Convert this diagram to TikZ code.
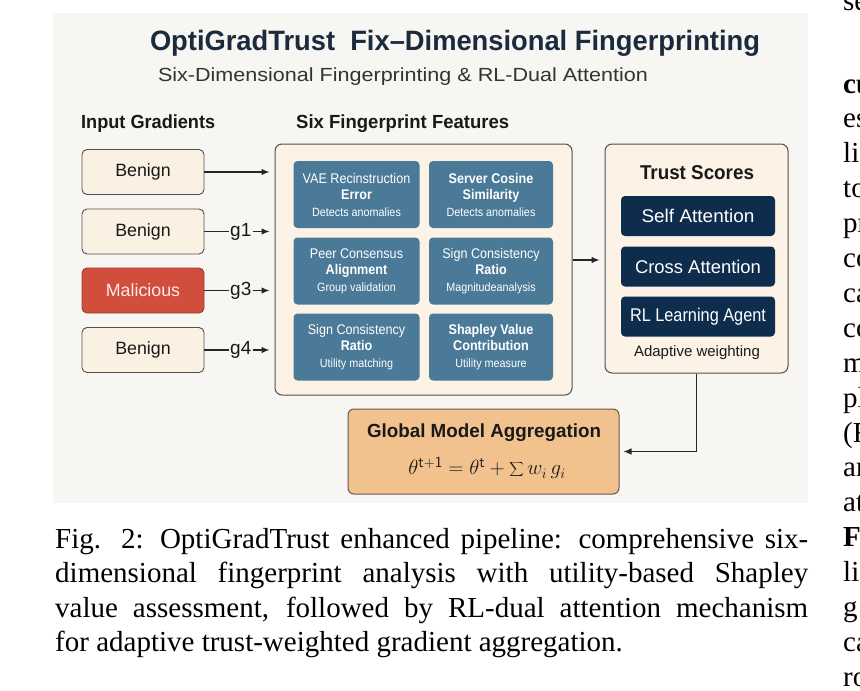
\documentclass[tikz,border=0pt]{standalone}
\usepackage{fontspec}
\setmainfont{Liberation Sans}
\newfontfamily\serifcap{Liberation Serif}
\newfontfamily\cond[FakeStretch=0.9]{Liberation Sans}
\usepackage{graphicx}
\usetikzlibrary{arrows.meta,calc}
\definecolor{bgc}{RGB}{247,246,243}
\definecolor{cream}{RGB}{250,241,226}
\definecolor{creamo}{RGB}{252,243,230}
\definecolor{bord}{RGB}{80,80,80}
\definecolor{malred}{RGB}{209,77,60}
\definecolor{featblue}{RGB}{74,122,152}
\definecolor{navy}{RGB}{14,44,75}
\definecolor{titlec}{RGB}{27,42,61}
\definecolor{globc}{RGB}{242,194,142}
\definecolor{txt}{RGB}{25,25,25}
\newsavebox\fitbox
\newcommand\fitw[2]{\sbox\fitbox{#2}\pgfmathsetmacro\fitr{#1/\wd\fitbox}\scalebox{\fitr}[1]{\usebox\fitbox}}
\newcommand\fs[1]{\fontsize{#1}{#1}\selectfont}
\newcommand\fl[2]{\fontsize{#1}{#2}\selectfont}
\tikzset{
  arr/.style={-{Latex[length=8pt,width=6.5pt]}, line width=1.1pt, draw=black!85},
  plain/.style={line width=1.1pt, draw=black!85},
  inbox/.style={draw=bord, line width=0.9pt, fill=cream, rounded corners=5pt,
     minimum width=122pt, minimum height=45pt, inner sep=0pt, font=\fs{17.8}, text=txt},
  bigbox/.style={draw=bord, line width=1pt, fill=creamo, rounded corners=7pt, inner sep=0pt},
  featbox/.style={fill=featblue, rounded corners=4pt, minimum width=126pt,
     minimum height=67pt, inner sep=0pt, text=white, align=center, font=\cond\fl{14}{16.5}},
  trustbox/.style={fill=navy, rounded corners=4pt, minimum width=154pt,
     minimum height=40pt, inner sep=0pt, text=white, font=\fs{18.4}},
  glabel/.style={font=\fs{19}, text=txt, inner sep=0pt},
  rcol/.style={anchor=base west, inner sep=0pt, font=\serifcap\fs{29}, text=black},
  capline/.style={anchor=base west, inner sep=0pt, font=\serifcap\fs{29}, text=black},
}
\begin{document}
\begin{tikzpicture}[x=1pt,y=-1pt]
\useasboundingbox (0,0) rectangle (860,691);
\fill[bgc] (53,13) rectangle (808,503);
% title
\node[font=\bfseries\fs{28}, text=titlec, inner sep=0pt] (title) at (455,43)
  {\fitw{610}{OptiGradTrust\ \ Fix–Dimensional Fingerprinting}};
\node[font=\fs{19}, text=black!80, inner sep=0pt] (sub) at (403,77)
  {\fitw{490}{Six-Dimensional Fingerprinting \& RL-Dual Attention}};
\node[font=\bfseries\fs{19}, text=txt, anchor=west, inner sep=0pt] (hin) at (81,124)
  {\fitw{134}{Input Gradients}};
\node[font=\bfseries\fs{19}, text=txt, anchor=west, inner sep=0pt] (hfe) at (296,124)
  {\fitw{213}{Six Fingerprint Features}};
% input boxes
\node[inbox] (b1) at (143,172) {Benign};
\node[inbox] (b2) at (143,231.5) {Benign};
\node[inbox, fill=malred, draw=malred!75!black, text=white!92!red] (b3) at (143,290.5) {Malicious};
\node[inbox] (b4) at (143,350) {Benign};
% features
\node[bigbox, minimum width=297pt, minimum height=251pt] (feat) at (423.5,269.5) {};
\node[featbox] (f1) at (356.5,194.5) {VAE Recinstruction\\\bfseries Error\\\fl{12}{16.5}Detects anomalies};
\node[featbox, minimum width=124pt] (f2) at (491,194.5) {\bfseries Server Cosine\\\bfseries Similarity\\\fl{12}{16.5}Detects anomalies};
\node[featbox] (f3) at (356.5,271) {Peer Consensus\\\bfseries Alignment\\\fl{12}{16.5}Group validation};
\node[featbox, minimum width=124pt] (f4) at (491,271) {Sign Consistency\\\bfseries Ratio\\\fl{12}{16.5}Magnitudeanalysis};
\node[featbox] (f5) at (356.5,347) {Sign Consistency\\\bfseries Ratio\\\fl{12}{16.5}Utility matching};
\node[featbox, minimum width=124pt] (f6) at (491,347) {\bfseries Shapley Value\\\bfseries Contribution\\\fl{12}{16.5}Utility measure};
% trust
\node[bigbox, minimum width=183pt, minimum height=229pt] (trust) at (696.5,258.5) {};
\node[font=\bfseries\fs{20}, text=txt, inner sep=0pt] (tt) at (697,173) {\fitw{114}{Trust Scores}};
\node[trustbox] (t1) at (698,216) {\fitw{113}{Self Attention}};
\node[trustbox] (t2) at (698,266.5) {\fitw{126}{Cross Attention}};
\node[trustbox] (t3) at (698,316.5) {\fitw{136}{RL Learning Agent}};
\node[font=\fs{15}, text=txt, inner sep=0pt] (tw) at (697,353) {Adaptive weighting};
% global
\node[draw=bord!80!brown, line width=1pt, fill=globc, rounded corners=6pt,
  minimum width=271pt, minimum height=85pt, inner sep=0pt] (glob) at (483.5,451.5) {};
\node[font=\bfseries\fs{19}, text=txt, inner sep=0pt] (gt) at (484,433) {\fitw{234}{Global Model Aggregation}};
\node[font=\fs{22}, text=txt, inner sep=0pt] (gf) at (487,468)
  {$\theta^{\mathsf{t+1}} = \theta^{\mathsf{t}} + \displaystyle\sum\nolimits w_{i}\, g_{i}$};
% connectors
\draw[arr, shorten >=5pt] (b1.east) -- (b1.east -| feat.west);
\node[glabel, anchor=west] (g1) at (230,231.5) {g1};
\node[glabel, anchor=west] (g3) at (230,290.5) {g3};
\node[glabel, anchor=west] (g4) at (230,350) {g4};
\draw[plain, shorten >=1pt] (b2.east) -- (g1.west);
\draw[plain, shorten >=1pt] (b3.east) -- (g3.west);
\draw[plain, shorten >=1pt] (b4.east) -- (g4.west);
\draw[arr, shorten <=1pt, shorten >=5pt] (g1.east) -- (g1.east -| feat.west);
\draw[arr, shorten <=1pt, shorten >=5pt] (g3.east) -- (g3.east -| feat.west);
\draw[arr, shorten <=1pt, shorten >=5pt] (g4.east) -- (g4.east -| feat.west);
\coordinate (fe) at (feat.east |- 0,260);
\draw[arr, shorten >=5pt] (fe) -- (fe -| trust.west);
\draw[arr, shorten >=4pt] (trust.south) |- (glob.east);
% caption
\node[capline] (c1) at (55,548)
  {\makebox[753pt][s]{Fig. 2: OptiGradTrust enhanced pipeline: comprehensive six-}};
\node[capline] (c2) at (55,582.5)
  {\makebox[753pt][s]{dimensional fingerprint analysis with utility-based Shapley}};
\node[capline] (c3) at (55,617)
  {\makebox[753pt][s]{value assessment, followed by RL-dual attention mechanism}};
\node[capline] (c4) at (55,651.5)
  {for adaptive trust-weighted gradient aggregation.};
% right column fragments
\begin{scope}
\clip (812,0) rectangle (860,691);
\node[rcol] (r0) at (843,10) {se};
\foreach \t [count=\i from 0] in {{\textbf{cu}},{es},{li},{to},{pr},{co},{ca},{co},{m},{pl},{(F},{ar},{at},{\textbf{F}},{li},{g},{ca},{ro}}
  {\node[rcol] (r\i) at (843,{93+\i*34.9}) {\t};}
\end{scope}
\end{tikzpicture}
\end{document}
